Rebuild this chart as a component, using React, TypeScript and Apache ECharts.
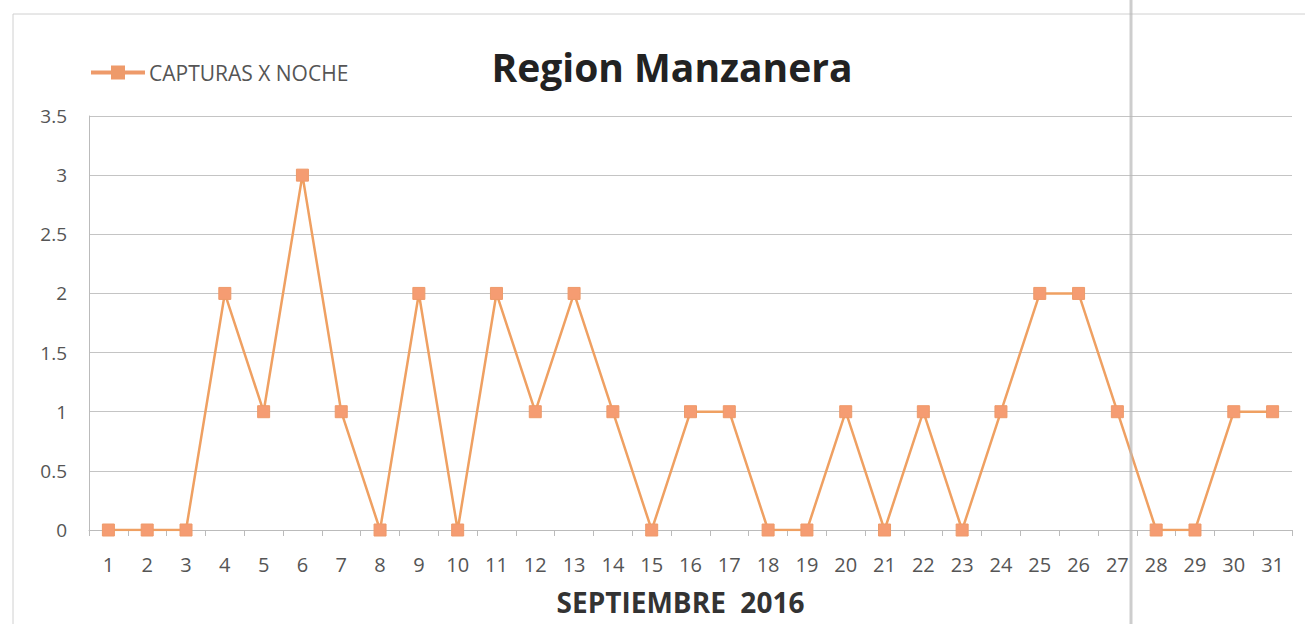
import React, { useEffect, useRef } from "react";
import * as echarts from "echarts";

const days = ["1","2","3","4","5","6","7","8","9","10","11","12","13","14","15","16","17","18","19","20","21","22","23","24","25","26","27","28","29","30","31"];
const capturas = [0,0,0,2,1,3,1,0,2,0,2,1,2,1,0,1,1,0,0,1,0,1,0,1,2,2,1,0,0,1,1];
const yTicks = [0, 0.5, 1, 1.5, 2, 2.5, 3, 3.5];

export default function App() {
  const ref = useRef<HTMLDivElement>(null);
  useEffect(() => {
    const chart = echarts.init(ref.current!, null, { renderer: "svg" });
    const font = "'Open Sans', 'Noto Sans', sans-serif";
    chart.setOption({
      animation: false,
      backgroundColor: "#ffffff",
      title: {
        text: "Region Manzanera",
        left: 667,
        textAlign: "center",
        top: 42,
        textStyle: { fontFamily: font, fontSize: 39, fontWeight: "bold", color: "#222" },
      },
      legend: {
        left: 86,
        top: 57,
        itemWidth: 52,
        itemHeight: 12,
        itemGap: 6,
        icon: "path://M0,5 L20,5 L20,0 L32,0 L32,5 L52,5 L52,7 L32,7 L32,12 L20,12 L20,7 L0,7 Z",
        textStyle: { fontFamily: font, fontSize: 21, color: "#555" },
        data: [{ name: "CAPTURAS X NOCHE", itemStyle: { color: "#EE9A6A" } }],
      },
      grid: { left: 89, right: 13, top: 116, bottom: 94, outerBoundsMode: "none" },
      xAxis: {
        type: "category",
        data: days,
        boundaryGap: true,
        name: "SEPTIEMBRE  2016",
        nameLocation: "middle",
        nameGap: 58,
        nameTextStyle: { fontFamily: font, fontSize: 28, fontWeight: "bold", color: "#333", padding: [0, 20, 0, 0] },
        axisLine: { lineStyle: { color: "#bbb" } },
        axisTick: { show: true, inside: false, length: 6, lineStyle: { color: "#bbb" } },
        axisLabel: { fontFamily: font, fontSize: 20, color: "#555", margin: 24 },
      },
      yAxis: {
        type: "value",
        min: 0,
        max: 3.5,
        interval: 0.5,
        axisLine: { show: true, lineStyle: { color: "#bbb" } },
        axisTick: { show: false },
        splitLine: { lineStyle: { color: "#c4c4c4", width: 1 } },
        axisLabel: {
          fontFamily: font, fontSize: 19, color: "#555", margin: 22,
          formatter: (v: number) => (yTicks.includes(v) ? String(v) : ""),
        },
      },
      series: [
        {
          name: "CAPTURAS X NOCHE",
          type: "line",
          data: capturas,
          symbol: "rect",
          symbolSize: 12,
          lineStyle: { color: "#EFA062", width: 2.5 },
          itemStyle: { color: "#F59C72", borderColor: "#EE9A6A", borderWidth: 1 },
        },
      ],
      graphic: [
        {
          type: "polyline",
          shape: { points: [[13, 624], [13, 14], [1305, 14]] },
          style: { stroke: "#d0d0d0", fill: "none", lineWidth: 1 },
          silent: true,
        },
        {
          type: "line",
          shape: { x1: 1131, y1: 0, x2: 1131, y2: 624 },
          style: { stroke: "#b8b8b8", lineWidth: 3, opacity: 0.7 },
          silent: true,
          z: 100,
        },
      ],
    });
    return () => chart.dispose();
  }, []);
  return <div ref={ref} style={{ width: 1305, height: 624, position: "absolute", left: 0, top: 0 }} />;
}
